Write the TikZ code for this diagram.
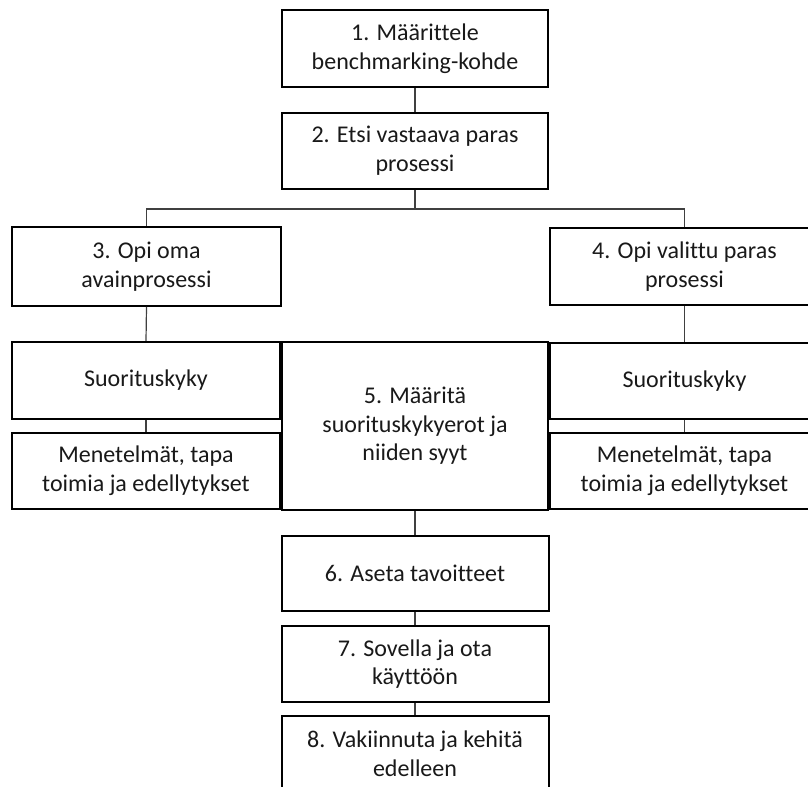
\documentclass[tikz,border=0pt]{standalone}
\usepackage{fontspec}
\setmainfont{Carlito}[Ligatures={NoCommon}]
\begin{document}
\begin{tikzpicture}[x=0.75pt,y=-0.75pt,
  box/.style 2 args={draw=black, line width=1.5pt, fill=white, inner sep=0pt,
    align=center, text=black!90, font=\fontsize{18}{21.5}\selectfont,
    minimum width=#1*0.75pt, minimum height=#2*0.75pt},
  link/.style={draw=black!75, line width=0.9pt}]
\useasboundingbox (0,0) rectangle (808,787);
\clip (0,0) rectangle (808,787);

% main column
\node[box={266}{77}] (b1) at (415,48.5) {1. Määrittele\\benchmarking-kohde};
\node[box={266}{76}] (b2) at (415,151) {2. Etsi vastaava paras\\prosessi};

% branches
\node[box={269}{79}] (b3) at (146.5,266.5) {3. Opi oma\\avainprosessi};
\node[box={269}{77}] (b4) at (684.5,266.5) {4. Opi valittu paras\\prosessi};

\node[box={268}{77}] (s3) at (146,380.5) {Suorituskyky};
\node[box={268}{76}] (m3) at (146,471) {Menetelmät, tapa\\toimia ja edellytykset};
\node[box={269}{76}] (s4) at (684.5,381) {Suorituskyky};
\node[box={269}{76}] (m4) at (684.5,471) {Menetelmät, tapa\\toimia ja edellytykset};

\node[box={266}{168}] (b5) at (415,426) {5. Määritä\\suorituskykyerot ja\\niiden syyt};
\node[box={267}{75}] (b6) at (415,573.5) {6. Aseta tavoitteet};
\node[box={267}{76}] (b7) at (415,664) {7. Sovella ja ota\\käyttöön};
\node[box={267}{76}] (b8) at (415,754) {8. Vakiinnuta ja kehitä\\edelleen};

\coordinate (split) at (415,209);

% connectors
\draw[link] (b1.south) -- (b2.north);
\draw[link] (b2.south) -- (split);
\draw[link] (split) -| (b3.north);
\draw[link] (split) -| (b4.north);
\draw[link] (b3.south) -- (s3.north);
\draw[link] (b4.south) -- (s4.north);
\draw[link] (s3.south) -- (m3.north);
\draw[link] (s4.south) -- (m4.north);
\draw[link] (b5.south) -- (b6.north);
\draw[link] (b6.south) -- (b7.north);
\draw[link] (b7.south) -- (b8.north);
\end{tikzpicture}
\end{document}
